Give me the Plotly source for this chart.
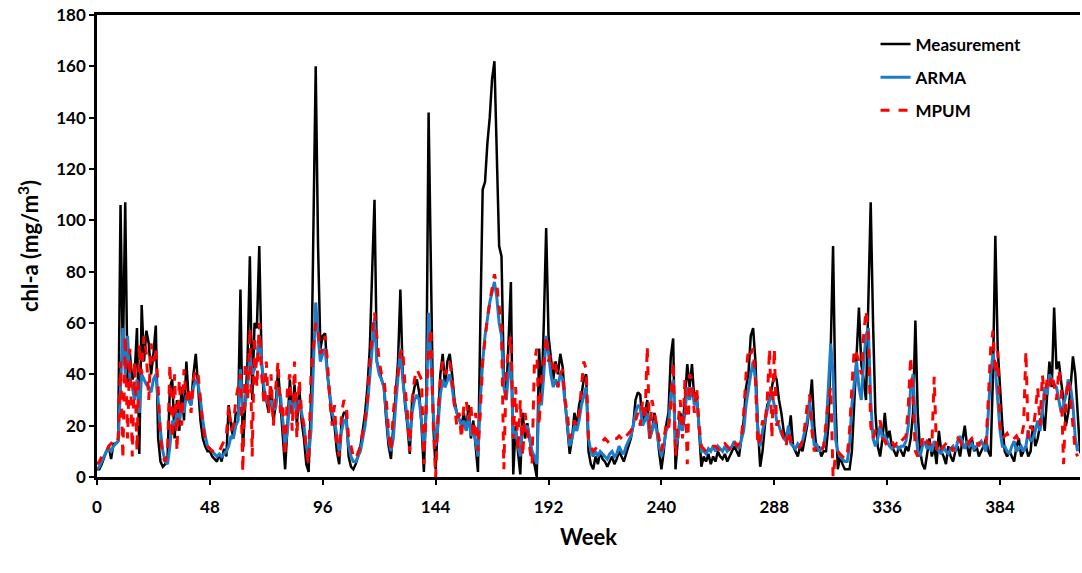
import plotly.graph_objects as go

# Weekly chl-a values (week 0 .. 417)
measurement = [
    3, 3, 5, 8, 10, 12, 7, 13, 13, 14, 106, 45,
    107, 35, 48, 38, 40, 58, 9, 67, 45, 57, 52, 40,
    48, 59, 15, 6, 4, 5, 8, 35, 38, 15, 30, 18,
    35, 22, 45, 30, 28, 40, 48, 35, 22, 15, 12, 10,
    10, 8, 7, 6, 9, 6, 11, 8, 28, 20, 15, 25,
    25, 73, 10, 30, 45, 86, 30, 60, 58, 90, 45, 30,
    30, 25, 35, 22, 28, 42, 30, 15, 3, 20, 38, 25,
    36, 20, 35, 22, 15, 5, 2, 30, 100, 160, 90, 50,
    55, 56, 40, 30, 22, 20, 10, 5, 22, 25, 25, 8,
    4, 3, 5, 8, 12, 18, 25, 35, 50, 80, 108, 45,
    42, 38, 35, 22, 12, 7, 20, 35, 45, 73, 40, 28,
    20, 9, 30, 35, 38, 33, 20, 2, 30, 142, 70, 20,
    3, 25, 40, 48, 35, 45, 48, 40, 30, 25, 22, 20,
    25, 18, 28, 15, 22, 12, 2, 60, 112, 115, 130, 140,
    155, 162, 120, 90, 86, 39, 30, 50, 76, 1, 20, 10,
    1, 25, 15, 21, 15, 8, 5, 0, 50, 30, 60, 97,
    55, 45, 38, 45, 40, 48, 43, 30, 20, 9, 15, 25,
    20, 28, 32, 38, 40, 10, 5, 3, 8, 5, 10, 7,
    6, 4, 6, 8, 5, 7, 10, 8, 6, 9, 12, 15,
    20, 30, 33, 32, 20, 25, 30, 15, 18, 25, 20, 10,
    3, 10, 20, 25, 47, 54, 3, 15, 25, 20, 30, 44,
    35, 44, 30, 33, 20, 4, 8, 6, 9, 5, 8, 6,
    10, 8, 7, 9, 6, 8, 10, 12, 10, 8, 15, 22,
    35, 40, 55, 58, 45, 20, 4, 10, 20, 28, 30, 35,
    40, 38, 30, 25, 18, 15, 15, 24, 12, 10, 8, 12,
    10, 15, 20, 28, 38, 20, 10, 12, 8, 10, 10, 20,
    50, 90, 30, 3, 8, 5, 3, 3, 3, 10, 30, 45,
    66, 44, 38, 30, 70, 107, 60, 25, 12, 8, 15, 25,
    15, 18, 12, 10, 8, 12, 10, 8, 12, 10, 15, 25,
    61, 25, 10, 5, 3, 10, 15, 8, 12, 5, 18, 10,
    8, 5, 12, 8, 6, 10, 12, 8, 15, 20, 12, 8,
    15, 10, 12, 8, 10, 12, 15, 10, 8, 40, 94, 50,
    35, 20, 10, 8, 10, 8, 6, 12, 15, 8, 10, 12,
    8, 10, 20, 12, 15, 20, 25, 18, 30, 45, 35, 66,
    42, 45, 37, 30, 20, 25, 35, 47, 40, 25, 10, 8,
]

arma = [
    3, 4, 6, 8, 10, 11, 10, 12, 13, 14, 35, 58,
    40, 55, 38, 35, 30, 38, 25, 40, 38, 36, 35, 33,
    38, 40, 30, 18, 10, 6, 5, 12, 22, 20, 25, 22,
    28, 25, 32, 30, 28, 35, 38, 36, 30, 22, 16, 12,
    11, 10, 9, 8, 9, 8, 9, 10, 12, 16, 15, 20,
    22, 42, 25, 28, 35, 48, 40, 42, 45, 55, 45, 35,
    30, 28, 30, 26, 27, 35, 32, 22, 12, 18, 30, 26,
    30, 25, 30, 25, 20, 12, 8, 18, 45, 68, 55, 45,
    48, 50, 40, 32, 25, 22, 15, 10, 18, 22, 22, 12,
    8, 6, 6, 8, 10, 15, 20, 28, 38, 50, 62, 45,
    40, 38, 35, 25, 15, 10, 15, 28, 38, 50, 38, 30,
    22, 14, 25, 30, 32, 30, 22, 10, 25, 64, 45, 25,
    12, 20, 32, 38, 35, 38, 40, 35, 28, 25, 22, 20,
    22, 18, 24, 16, 20, 14, 8, 30, 45, 55, 62, 68,
    72, 76, 70, 60, 55, 35, 30, 40, 45, 15, 18, 12,
    8, 20, 18, 20, 15, 10, 8, 5, 30, 28, 40, 55,
    48, 40, 35, 38, 35, 40, 38, 30, 22, 12, 15, 20,
    18, 22, 28, 32, 35, 15, 10, 8, 10, 8, 10, 9,
    8, 7, 9, 10, 8, 9, 12, 10, 9, 12, 14, 16,
    20, 25, 28, 27, 20, 22, 25, 15, 18, 22, 18, 12,
    8, 12, 18, 20, 32, 38, 12, 15, 22, 18, 25, 35,
    30, 35, 28, 30, 20, 10, 10, 9, 11, 10, 12, 10,
    12, 11, 10, 12, 10, 11, 12, 14, 12, 11, 15, 18,
    28, 35, 40, 45, 38, 18, 12, 18, 22, 25, 30, 32,
    28, 22, 20, 17, 15, 14, 20, 13, 12, 11, 13, 12,
    14, 18, 22, 30, 20, 12, 13, 10, 11, 12, 18, 35,
    52, 40, 15, 10, 8, 7, 6, 6, 12, 28, 38, 45,
    35, 30, 45, 55, 58, 30, 15, 12, 15, 20, 15, 16,
    14, 12, 11, 12, 12, 11, 12, 12, 14, 20, 35, 40,
    20, 10, 8, 12, 14, 11, 12, 10, 14, 12, 10, 9,
    12, 10, 9, 11, 12, 10, 14, 16, 13, 11, 14, 12,
    13, 11, 12, 13, 14, 12, 10, 25, 40, 48, 42, 30,
    18, 12, 12, 10, 9, 12, 14, 10, 11, 12, 10, 12,
    18, 14, 15, 18, 22, 18, 25, 35, 32, 40, 38, 36,
    35, 30, 25, 28, 32, 38, 35, 28, 15, 10,
]

mpum = [
    5, 6, 8, 9, 10, 12, 13, 14, 13, 15, 45, 7,
    55, 15, 50, 8, 45, 10, 52, 40, 55, 48, 30, 52,
    45, 50, 35, 15, 8, 6, 10, 44, 15, 40, 10, 38,
    20, 42, 30, 35, 25, 38, 42, 40, 30, 20, 15, 12,
    11, 10, 10, 9, 10, 12, 14, 16, 28, 18, 20, 30,
    35, 40, 2, 45, 30, 58, 8, 55, 35, 60, 40, 28,
    45, 25, 40, 20, 35, 45, 25, 28, 8, 35, 40, 18,
    45, 15, 38, 25, 20, 10, 5, 40, 50, 60, 58, 48,
    50, 55, 45, 30, 20, 28, 12, 8, 25, 30, 28, 15,
    12, 8, 7, 10, 12, 18, 22, 30, 45, 55, 64, 55,
    45, 40, 38, 30, 18, 10, 25, 35, 40, 48, 50, 35,
    25, 10, 30, 38, 42, 40, 38, 5, 30, 50, 58, 20,
    0, 25, 38, 45, 40, 42, 45, 38, 28, 20, 25, 15,
    28, 30, 22, 28, 15, 25, 10, 25, 45, 55, 62, 68,
    74, 79, 75, 65, 58, 3, 40, 50, 55, 15, 35, 10,
    30, 8, 25, 18, 12, 5, 45, 50, 20, 38, 45, 55,
    45, 48, 42, 45, 35, 40, 42, 30, 25, 15, 18, 22,
    20, 25, 35, 45, 42, 15, 12, 10, 11, 12, 13, 14,
    15, 14, 13, 14, 15, 15, 16, 15, 14, 16, 17, 18,
    20, 22, 25, 20, 30, 22, 51, 15, 30, 25, 20, 15,
    10, 15, 20, 18, 28, 45, 8, 20, 30, 15, 38, 5,
    40, 38, 25, 35, 20, 12, 11, 10, 10, 11, 12, 12,
    11, 10, 12, 13, 12, 11, 13, 14, 12, 13, 15, 25,
    40, 50, 48, 50, 38, 12, 15, 22, 20, 30, 50, 15,
    50, 20, 22, 18, 15, 12, 18, 14, 13, 12, 11, 12,
    14, 20, 28, 32, 18, 10, 12, 11, 10, 12, 20, 30,
    35, 0, 8, 10, 9, 8, 7, 8, 18, 35, 50, 48,
    45, 40, 55, 65, 55, 20, 15, 18, 20, 22, 15, 14,
    12, 13, 14, 12, 13, 12, 14, 15, 16, 28, 47, 30,
    10, 8, 10, 15, 12, 14, 13, 12, 39, 10, 12, 11,
    12, 13, 14, 12, 10, 13, 15, 14, 12, 13, 12, 14,
    15, 13, 14, 12, 15, 14, 13, 30, 50, 57, 40, 49,
    20, 15, 16, 17, 15, 14, 15, 16, 14, 15, 20, 49,
    15, 20, 18, 25, 35, 20, 40, 30, 38, 35, 40, 36,
    30, 42, 35, 5, 30, 38, 30, 20, 10, 8,
]

x_ticks = [0, 48, 96, 144, 192, 240, 288, 336, 384]
y_ticks = [0, 20, 40, 60, 80, 100, 120, 140, 160, 180]

FONT = "Lato"

fig = go.Figure()
fig.add_trace(go.Scatter(
    x=list(range(len(measurement))), y=measurement, mode="lines",
    name="Measurement", legendgroup="m",
    line=dict(color="#000000", width=2.5),
))
fig.add_trace(go.Scatter(
    x=list(range(len(arma))), y=arma, mode="lines",
    name="ARMA", legendgroup="a",
    line=dict(color="#1B7CC9", width=3),
))
fig.add_trace(go.Scatter(
    x=list(range(len(mpum))), y=mpum, mode="lines",
    name="MPUM", legendgroup="p",
    line=dict(color="#FF0000", width=3, dash="dash"),
))

fig.update_layout(
    width=1082, height=573,
    margin=dict(l=97, r=2, t=15, b=96),
    paper_bgcolor="white", plot_bgcolor="white",
    showlegend=True,
    legend=dict(
        x=0.792, y=0.975, xanchor="left", yanchor="top",
        bgcolor="rgba(0,0,0,0)", borderwidth=0,
        font=dict(family=FONT, size=17, color="black", weight="bold"),
        traceorder="grouped", tracegroupgap=8,
    ),
    xaxis=dict(
        range=[0, 418], tickvals=x_ticks, ticktext=[str(v) for v in x_ticks],
        showgrid=False, zeroline=False,
        showline=True, linecolor="black", linewidth=2.5, mirror=True,
        ticks="outside", ticklen=5, tickcolor="black", tickwidth=1.5,
        ticklabelstandoff=8,
        tickfont=dict(family=FONT, size=17, color="black", weight="bold"),
        title=dict(text="Week", standoff=14,
                   font=dict(family=FONT, size=22, color="black", weight="bold")),
    ),
    yaxis=dict(
        range=[0, 180], tickvals=y_ticks,
        showgrid=False, zeroline=False,
        showline=True, linecolor="black", linewidth=2.5,
        ticks="outside", ticklen=5, tickcolor="black", tickwidth=1.5,
        tickfont=dict(family=FONT, size=17, color="black", weight="bold"),
        title=dict(text="chl-a (mg/m<sup>3</sup>)", standoff=12,
                   font=dict(family=FONT, size=22, color="black", weight="bold")),
    ),
)

fig.write_html("out.html")
